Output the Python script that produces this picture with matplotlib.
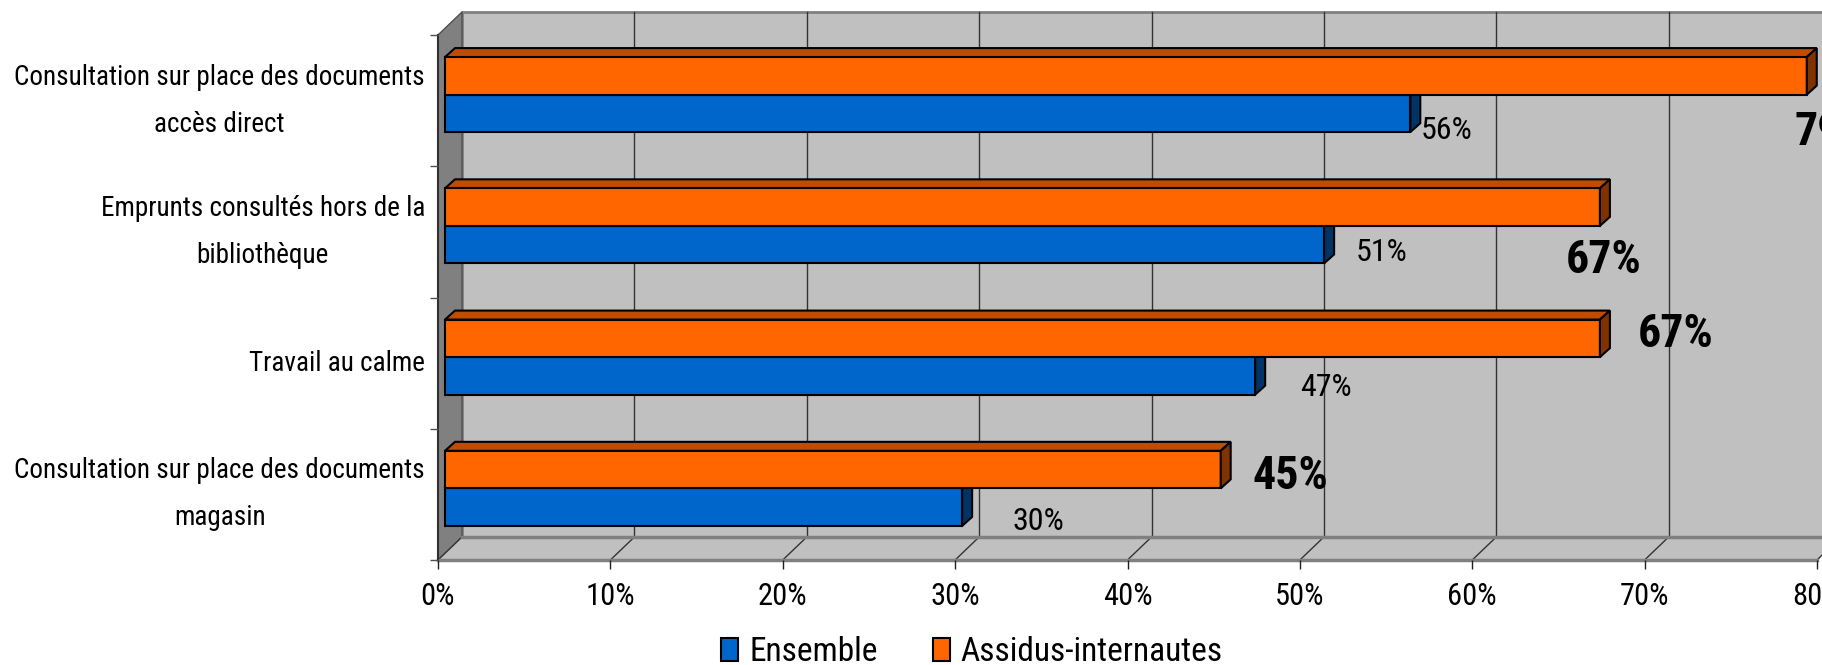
import matplotlib
matplotlib.use('Agg')
import matplotlib.pyplot as plt
from matplotlib import font_manager, transforms as mtrans
from matplotlib.patches import Polygon, Patch
from matplotlib.lines import Line2D
from matplotlib.ticker import PercentFormatter
import numpy as np

# ---------------- data ----------------
categories = ["Consultation sur place des documents\naccès direct",
              "Emprunts consultés hors de la\nbibliothèque",
              "Travail au calme",
              "Consultation sur place des documents\nmagasin"]
ensemble = [0.56, 0.51, 0.47, 0.30]
assidus = [0.79, 0.67, 0.67, 0.45]
series_names = ["Ensemble", "Assidus-internautes"]
x_ticks = [0.0, 0.1, 0.2, 0.3, 0.4, 0.5, 0.6, 0.7, 0.8]

# label placement offsets (pixels)
ens_label_offsets = [(43, -11), (64, -2), (78, -6), (83, -8)]
ass_label_offsets = [(33, -50), (11, -47), (83, 10), (77, 0)]

# ---------------- font ----------------
available = {f.name for f in font_manager.fontManager.ttflist}
FONT = 'Liberation Sans'
for cand in ['Liberation Sans Narrow', 'Arial Narrow', 'Roboto Condensed',
             'Open Sans Condensed', 'Liberation Sans']:
    if cand in available:
        FONT = cand
        break
plt.rcParams['font.family'] = [FONT, 'DejaVu Sans']

# ---------------- figure ----------------
W, H = 1822, 665
fig = plt.figure(figsize=(W / 100, H / 100), dpi=100)
L, R, B, T = 438, 1817, 560, 35
ax = fig.add_axes([L / W, 1 - B / H, (R - L) / W, (B - T) / H])
n = len(categories)
ax.set_xlim(0, 0.8)
ax.set_ylim(n - 0.5, -0.5)
ax.patch.set_visible(False)
for s in ax.spines.values():
    s.set_visible(False)

WALL = (24, 23)
FACE = (7, 6)
DEPTH = (10, 9)
ID = mtrans.IdentityTransform()


def disp(x, y, off=(0, 0)):
    p = ax.transData.transform((x, y))
    return (p[0] + off[0], p[1] + off[1])


def add(off_pts, d):
    return (off_pts[0] + d[0], off_pts[1] + d[1])


ytop_ax, ybot_ax = -0.5, n - 0.5
xmax = 0.8

# back wall
wall = [disp(0, ytop_ax, WALL), disp(xmax, ytop_ax, WALL),
        disp(xmax, ybot_ax, WALL), disp(0, ybot_ax, WALL)]
ax.add_patch(Polygon(wall, closed=True, facecolor='#c0c0c0', edgecolor='#808080',
                     lw=2, transform=ID, clip_on=False, zorder=0.5))
# left wall
lwall = [disp(0, ytop_ax), disp(0, ytop_ax, WALL), disp(0, ybot_ax, WALL), disp(0, ybot_ax)]
ax.add_patch(Polygon(lwall, closed=True, facecolor='#808080', edgecolor='#505050',
                     lw=1, transform=ID, clip_on=False, zorder=0.6))
# floor
floor = [disp(0, ybot_ax), disp(xmax, ybot_ax), disp(xmax, ybot_ax, WALL), disp(0, ybot_ax, WALL)]
ax.add_patch(Polygon(floor, closed=True, facecolor='#c0c0c0', edgecolor='none',
                     transform=ID, clip_on=False, zorder=0.6))
# gridlines on back wall and floor diagonals
for xt in x_ticks:
    if 0 < xt < xmax:
        p1, p2 = disp(xt, ybot_ax, WALL), disp(xt, ytop_ax, WALL)
        ax.add_line(Line2D([p1[0], p2[0]], [p1[1], p2[1]], color='#333333', lw=1,
                           transform=ID, clip_on=False, zorder=0.8))
    q1, q2 = disp(xt, ybot_ax), disp(xt, ybot_ax, WALL)
    ax.add_line(Line2D([q1[0], q2[0]], [q1[1], q2[1]], color='#333333', lw=1,
                       transform=ID, clip_on=False, zorder=0.8))
# floor edges
for off in [(0, 0), WALL]:
    a, b = disp(0, ybot_ax, off), disp(xmax, ybot_ax, off)
    ax.add_line(Line2D([a[0], b[0]], [a[1], b[1]], color='#808080', lw=2.5,
                       transform=ID, clip_on=False, zorder=0.9))
# left front edge
a, b = disp(0, ytop_ax), disp(0, ybot_ax)
ax.add_line(Line2D([a[0], b[0]], [a[1], b[1]], color='#303030', lw=1.5,
                   transform=ID, clip_on=False, zorder=0.95))

# ---------------- bars ----------------
h = 0.286
yc = np.arange(n)
tF = mtrans.offset_copy(ax.transData, fig=fig, x=FACE[0], y=FACE[1], units='dots')
ax.barh(yc + h / 2, ensemble, height=h, color='#0066cc', edgecolor='black', lw=1.5,
        transform=tF, zorder=3)
ax.barh(yc - h / 2, assidus, height=h, color='#ff6600', edgecolor='black', lw=1.5,
        transform=tF, zorder=5)


def faces(v, yt, yb, top_c, side_c, z):
    a = disp(0, yt, FACE)
    b = disp(v, yt, FACE)
    c = disp(v, yb, FACE)
    top = [a, b, add(b, DEPTH), add(a, DEPTH)]
    side = [b, c, add(c, DEPTH), add(b, DEPTH)]
    ax.add_patch(Polygon(top, closed=True, facecolor=top_c, edgecolor='black', lw=1.5,
                         transform=ID, clip_on=False, zorder=z - 0.1))
    ax.add_patch(Polygon(side, closed=True, facecolor=side_c, edgecolor='black', lw=1.5,
                         transform=ID, clip_on=False, zorder=z + 0.1))


for i in range(n):
    faces(ensemble[i], yc[i], yc[i] + h, '#004c99', '#003366', 3)
    faces(assidus[i], yc[i] - h, yc[i], '#c04c00', '#803300', 5)

# ---------------- value labels ----------------
for i in range(n):
    ax.annotate(f"{ensemble[i] * 100:.0f}%", xy=(ensemble[i], yc[i] + h / 2),
                xytext=ens_label_offsets[i], textcoords='offset pixels',
                ha='center', va='center', fontsize=23, color='black', zorder=6,
                annotation_clip=False)
    ax.annotate(f"{assidus[i] * 100:.0f}%", xy=(assidus[i], yc[i] - h / 2),
                xytext=ass_label_offsets[i], textcoords='offset pixels',
                ha='center', va='center', fontsize=33, fontweight='bold', color='black',
                zorder=6, annotation_clip=False)

# ---------------- axes ticks ----------------
ax.set_xticks(x_ticks)
ax.xaxis.set_major_formatter(PercentFormatter(xmax=1, decimals=0))
ax.tick_params(axis='x', length=6.5, width=1, color='#202020', pad=9, labelsize=22)

ax.set_yticks(np.arange(-0.5, n, 1.0))
ax.set_yticklabels([])
ax.tick_params(axis='y', which='major', length=5.8, width=1, color='#505050')
ax.set_yticks(yc, labels=categories, minor=True)
ax.tick_params(axis='y', which='minor', length=0, pad=9.4, labelsize=19.5)
for lbl in ax.get_yticklabels(minor=True):
    lbl.set_multialignment('center')
    lbl.set_linespacing(1.95)
    lbl.set_verticalalignment('center')

# ---------------- legend ----------------
handles = [Patch(facecolor='#0066cc', edgecolor='black', lw=1.5, label=series_names[0]),
           Patch(facecolor='#ff6600', edgecolor='black', lw=1.5, label=series_names[1])]
fig.legend(handles=handles, loc='lower center', bbox_to_anchor=(972 / W, -0.005),
           ncol=2, frameon=False, fontsize=24, handlelength=0.51, handleheight=0.66,
           handletextpad=0.33, columnspacing=1.65, borderaxespad=0, borderpad=0)

fig.savefig('out.png', dpi=100)
